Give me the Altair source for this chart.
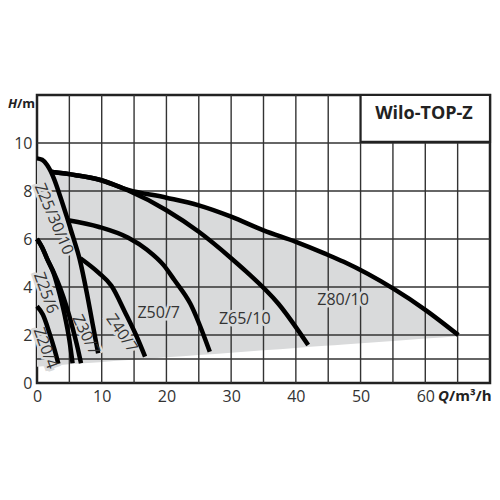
import altair as alt
import pandas as pd

# Wilo-TOP-Z pump curves (Q in m3/h, H in m)
Z25_30_10_Q = [0, 0.8, 1.56, 2.6, 3.6, 4.6, 5.5, 6.6, 7.7, 8.6, 9.45]
Z25_30_10_H = [9.36, 9.3, 9.08, 8.53, 7.76, 6.93, 6.15, 5.15, 3.75, 2.45, 1.24]
Z80_Q = [2.07, 6, 9.65, 14.1, 20, 25, 30, 35, 40, 44.5, 47.4, 55, 60, 65.1]
Z80_H = [8.8, 8.66, 8.47, 8.05, 7.72, 7.4, 6.93, 6.36, 5.88, 5.39, 5.05, 3.94, 3.05, 2.0]
Z65_Q = [2.07, 6, 9.65, 14.1, 20, 25, 30, 32.3, 37.3, 41.9]
Z65_H = [8.8, 8.66, 8.47, 8.02, 7.2, 6.3, 5.2, 4.65, 3.3, 1.58]
Z50_Q = [4.8, 9.6, 14.1, 17, 19.6, 21.2, 23.7, 26.7]
Z50_H = [6.78, 6.5, 6.05, 5.55, 4.9, 4.3, 3.3, 1.3]
Z40_Q = [6.7, 9.5, 11.5, 13.6, 15.3, 16.7]
Z40_H = [5.2, 4.6, 4.05, 2.95, 2.0, 1.1]
Z30_Q = [0, 0.8, 1.6, 2.6, 3.6, 4.6, 5.5, 6.2, 6.8]
Z30_H = [6.0, 5.65, 5.15, 4.6, 3.95, 3.15, 2.3, 1.55, 0.82]
Z25_6_Q = [0, 0.8, 1.6, 2.6, 3.5, 4.3, 5.0, 5.5]
Z25_6_H = [6.0, 5.65, 5.15, 4.55, 3.7, 2.8, 1.8, 0.82]
Z20_Q = [0, 0.9, 1.9, 2.7, 3.3]
Z20_H = [3.2, 2.85, 2.1, 1.4, 0.8]

# lower edge of the grey working range
LOW_Q = [0, 65.1]
LOW_H = [0.68, 1.95]

LABEL_TEXT = ["Z25/30/10", "Z25/6", "Z20/4", "Z30/7", "Z40/7", "Z50/7", "Z65/10", "Z80/10"]
LABEL_Q = [2.6, 1.35, 1.3, 7.55, 13.1, 18.8, 32.1, 47.3]
LABEL_H = [6.83, 3.75, 1.45, 2.0, 2.07, 2.9, 2.67, 3.46]
LABEL_ANGLE = [67, 70, 70, 64, 56, 0, 0, 0]

X_TICKS = [0, 10, 20, 30, 40, 50, 60]
Y_TICKS = [0, 2, 4, 6, 8, 10]
GRID_Q = [5, 10, 15, 20, 25, 30, 35, 40, 45, 50, 55, 60, 65]
GRID_H = [1, 2, 4, 6, 8, 10]

FONT = "Open Sans"
GREY = "#d9dadb"
INK = "#222222"
W, H = 453, 288

curves = [
    ("Z25/30/10", Z25_30_10_Q, Z25_30_10_H),
    ("Z80/10", Z80_Q, Z80_H),
    ("Z65/10", Z65_Q, Z65_H),
    ("Z50/7", Z50_Q, Z50_H),
    ("Z40/7", Z40_Q, Z40_H),
    ("Z30/7", Z30_Q, Z30_H),
    ("Z25/6", Z25_6_Q, Z25_6_H),
    ("Z20/4", Z20_Q, Z20_H),
]
curve_df = pd.concat(
    [pd.DataFrame({"curve": name, "q": q, "h": h}) for name, q, h in curves],
    ignore_index=True,
)

# envelope = top of Z25/30/10 until Z80/10 takes over
env_q = [q for q in Z25_30_10_Q if q < Z80_Q[0]] + Z80_Q
env_h = [h for q, h in zip(Z25_30_10_Q, Z25_30_10_H) if q < Z80_Q[0]] + Z80_H
env_df = pd.DataFrame({"q": env_q, "h": env_h})

labels_df = pd.DataFrame({"text": LABEL_TEXT, "q": LABEL_Q, "h": LABEL_H, "angle": LABEL_ANGLE})

x_scale = alt.Scale(domain=[0, 70], nice=False, zero=False)
y_scale = alt.Scale(domain=[0, 12], nice=False, zero=False)
x_axis = alt.Axis(values=X_TICKS, title=None, labelPadding=5)
y_axis = alt.Axis(values=Y_TICKS, title=None, labelPadding=5)


def qx(field="q"):
    return alt.X(f"{field}:Q", scale=x_scale, axis=x_axis)


def hy(field="h"):
    return alt.Y(f"{field}:Q", scale=y_scale, axis=y_axis)


area = alt.Chart(env_df).mark_area(color=GREY, interpolate="monotone").transform_calculate(
    low=f"{LOW_H[0]} + ({LOW_H[1]} - {LOW_H[0]}) * datum.q / {LOW_Q[1]}"
).encode(x=qx(), y=hy(), y2="low:Q")

vgrid = alt.Chart(pd.DataFrame({"q": GRID_Q})).mark_rule(color="#333333", strokeWidth=1.4).encode(x=qx())
hgrid = alt.Chart(pd.DataFrame({"h": GRID_H})).mark_rule(color="#333333", strokeWidth=1.4).encode(y=hy())

box_df = pd.DataFrame({"q": [50], "q2": [70], "h": [10.05], "h2": [12]})
box = alt.Chart(box_df).mark_rect(fill="white", stroke=INK, strokeWidth=2.2).encode(
    x=qx(), x2="q2:Q", y=hy(), y2="h2:Q"
)
box_title = alt.Chart(pd.DataFrame({"t": ["Wilo-TOP-Z"], "q": [59.8], "h": [11.22]})).mark_text(
    font=FONT, fontSize=18, fontWeight="bold", color=INK, align="center", baseline="middle"
).encode(x=qx(), y=hy(), text="t:N")

halo = alt.Chart(labels_df).mark_text(
    font=FONT, fontSize=16, align="center", baseline="middle", color=GREY, stroke=GREY, strokeWidth=5
).encode(x=qx(), y=hy(), angle=alt.Angle("angle:Q", scale=None), text="text:N")
label_text = halo.mark_text(font=FONT, fontSize=16, align="center", baseline="middle", color="#333333")

lines = alt.Chart(curve_df).mark_line(
    color="black", strokeWidth=4.5, interpolate="monotone", strokeCap="butt"
).encode(x=qx(), y=hy(), detail="curve:N")


def unit_text(txt, px, py, align, italic, size):
    return alt.Chart(pd.DataFrame({"t": [txt]})).mark_text(
        font=FONT, fontSize=size, fontWeight="bold", fontStyle="italic" if italic else "normal",
        color=INK, align=align, baseline="middle"
    ).encode(x=alt.value(px), y=alt.value(py), text="t:N")


units = [
    unit_text("H", -20, 9, "right", True, 13),
    unit_text("/m", -20, 9, "left", False, 13),
    unit_text("Q", 412, 301, "right", True, 15),
    unit_text("/m³/h", 412, 301, "left", False, 15),
]

chart = alt.layer(
    area, vgrid, hgrid, box, box_title, halo, lines, label_text, *units
).properties(
    width=W, height=H,
    autosize=alt.AutoSizeParams(type="none"),
    padding={"left": 29, "top": 87, "right": 2, "bottom": 40},
).configure_view(
    stroke=INK, strokeWidth=2.5
).configure_axis(
    domain=False, ticks=False, grid=False,
    labelFont=FONT, labelFontSize=16, labelColor="#333333", labelFlush=False,
)

chart.save("out.html", embed_options={"renderer": "svg", "actions": False})
